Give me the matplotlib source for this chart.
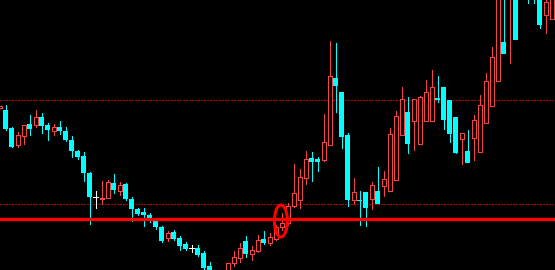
import matplotlib
matplotlib.use("Agg")
import matplotlib.pyplot as plt
from matplotlib.patches import Rectangle, Ellipse

# Candle data (price units), index k = -1 .. 91
opens = [162, 160, 142, 125, 134, 146, 145, 153, 145, 139, 143, 139, 130, 119, 114, 97, 73, 71.5, 72, 87, 79, 86, 71, 61, 58, 55, 51, 43, 32, 38, 32, 26, 22, 22, 17, 4, -10, -22, -8, 7, 12, 29, 16, 19, 31, 27, 31, 43, 47, 64, 70, 92, 112, 111, 110, 125, 192, 178, 135, 70, 69, 78, 71, 66, 84, 79, 90, 135, 158, 171, 126, 149, 149, 172, 183, 170, 153, 137, 107, 132, 118, 147, 164, 189, 216, 280, 230, 310, 280, 310, 290, 268, 251, 255]
highs = [164, 165, 143, 138, 145, 155, 160, 157, 147, 146, 149, 143, 134, 120, 118, 98, 79, 89, 90, 96, 88, 87, 73, 62, 62, 57, 52, 44, 39, 40, 34, 28, 25, 25, 19, 8, -8, -10, 7, 19, 27, 34, 24, 35, 39, 37, 45, 57, 67, 106, 101, 119, 118, 113, 156, 229, 227, 178, 137, 92, 79, 76, 88, 103, 99, 142, 159, 183, 173, 166, 174, 190, 200, 194, 171, 162, 140, 136, 140, 155, 175, 197, 223, 290, 290, 290, 320, 310, 315, 295, 275, 275, 280]
lows = [162, 140, 123, 123, 126, 135, 143, 137, 130, 135, 136, 129, 113, 111, 89, 46, 62, 66, 72, 77, 75, 70, 49, 55, 44, 48, 41, 28, 29, 30, 20, 20, 18, 14, 0, -15, -25, -26, -10, 4, 8, 13, 10, 18, 26, 25, 30, 40, 45, 63, 62, 86, 89, 99, 109, 125, 158, 122, 64, 67, 45, 44, 61, 70, 74, 90, 127, 137, 117, 120, 142, 167, 163, 168, 141, 128, 117, 106, 118, 110, 145, 154, 181, 211, 217, 207, 264, 275, 267, 267, 242, 237, 251]
closes = [164, 141, 123, 135, 145, 141, 153, 144, 140, 143, 139, 130, 119, 113, 97, 73, 73, 72.5, 88, 80, 85, 71, 61, 56, 55, 50, 43, 29, 37, 31, 24, 21, 22, 15, 2, -10, -20, -12, 7, 13, 22, 16, 20, 30, 27, 33, 43, 47, 64, 77, 93, 111, 108, 108, 128, 194, 184, 133, 70, 78, 70, 62, 85, 79, 91, 136, 154, 171, 126, 149, 173, 178, 183, 170, 150, 136, 117, 131, 119, 150, 165, 189, 213, 280, 228, 280, 285, 290, 290, 275, 245, 255, 275]
# candle type: 'up' hollow red, 'down' filled cyan, 'doji' white cross
kinds = (['up'] + ['down', 'down', 'up', 'up', 'down', 'up', 'down', 'down', 'up', 'down',
          'down', 'down', 'down', 'down', 'down', 'doji', 'up', 'up', 'down', 'up',
          'down', 'down', 'down', 'down', 'down', 'down', 'down', 'up', 'down', 'down',
          'down', 'doji', 'down', 'down', 'down', 'down', 'up', 'up', 'up', 'up',
          'down', 'up', 'up', 'down', 'up', 'up', 'up', 'up', 'up', 'up',
          'up', 'down', 'down', 'up', 'up', 'down', 'down', 'down', 'up', 'down',
          'down', 'up', 'down', 'up', 'up', 'up', 'up', 'down', 'up', 'up',
          'up', 'up', 'down', 'down', 'down', 'down', 'up', 'down', 'up', 'up',
          'up', 'up', 'up', 'down', 'up', 'down', 'up', 'down', 'down', 'down',
          'up', 'up'])
first_index = -1

resistance_levels = [170, 66]
support_level = 50.7
marker_center = (45.9, 49)

UP = '#f04646'
DOWN = '#00ffff'
DOJI = '#ffffff'

fig = plt.figure(figsize=(5.55, 2.70), dpi=100)
ax = fig.add_axes([0, 0, 1, 1])
ax.set_facecolor('black')
fig.patch.set_facecolor('black')

px = 0.72  # one pixel in points
bw = 5 / 6.0

for i, (o, h, l, c, kd) in enumerate(zip(opens, highs, lows, closes, kinds)):
    x = first_index + i
    if kd == 'down':
        ax.vlines(x, l, h, color=DOWN, lw=px, zorder=2, antialiased=False)
        ax.add_patch(Rectangle((x - bw / 2, min(o, c)), bw, abs(o - c),
                               facecolor=DOWN, edgecolor='none', zorder=3, antialiased=False))
    elif kd == 'up':
        ax.vlines(x, l, h, color=UP, lw=px, zorder=2, antialiased=False)
        w = bw - 1 / 6.0
        ax.add_patch(Rectangle((x - w / 2, min(o, c)), w, max(abs(o - c), 0.01),
                               facecolor='black', edgecolor=UP, lw=px, zorder=3,
                               antialiased=False))
    else:
        ax.vlines(x, l, h, color=DOJI, lw=px, zorder=2, antialiased=False)
        ax.hlines(o, x - bw / 2, x + bw / 2, color=DOJI, lw=px, zorder=3, antialiased=False)

for lvl in resistance_levels:
    ax.axhline(lvl, color='#b00000', lw=px, linestyle=(0, (1.4, 1.4)), zorder=1,
               antialiased=False)
ax.axhline(support_level, color='#ff0000', lw=2.4, zorder=4)

ax.add_patch(Ellipse(marker_center, 2.15, 32, facecolor='none', edgecolor='#ff0000',
                     lw=2.2, zorder=5))

ax.set_xlim(-5.5 / 6.0, -5.5 / 6.0 + 555 / 6.0)
ax.set_ylim(0, 270)
ax.axis('off')

fig.savefig('out.png', dpi=100, facecolor='black')
